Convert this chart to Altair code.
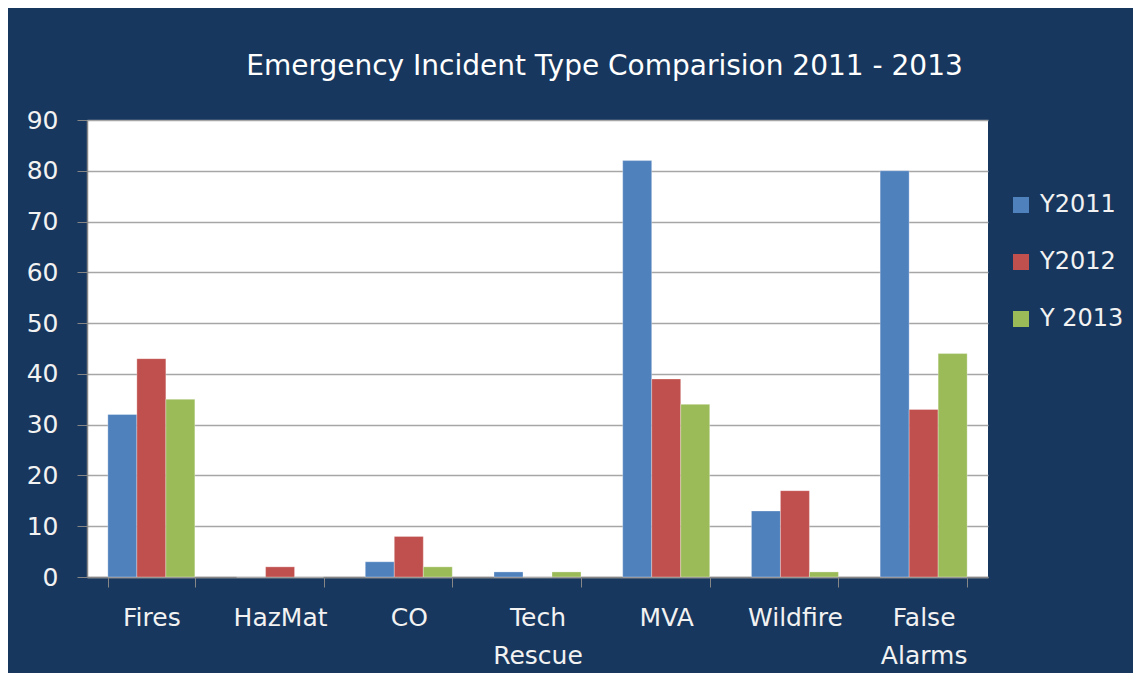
import altair as alt
import pandas as pd

categories = ["Fires", "HazMat", "CO", "Tech Rescue", "MVA", "Wildfire", "False Alarms"]
series = ["Y2011", "Y2012", "Y 2013"]
y2011 = [32, 0, 3, 1, 82, 13, 80]
y2012 = [43, 2, 8, 0, 39, 17, 33]
y2013 = [35, 0, 2, 1, 34, 1, 44]
colors = ["#4F81BD", "#C0504D", "#9BBB59"]

rows = []
for s, vals in zip(series, [y2011, y2012, y2013]):
    for c, v in zip(categories, vals):
        rows.append({"category": c, "series": s, "value": v})
df = pd.DataFrame(rows)

FONT = "DejaVu Sans"
TXT = "#F2F2F2"
NAVY = "#17375E"

chart = alt.Chart(df).mark_bar(stroke="white", strokeWidth=0.5, strokeOpacity=0.6).encode(
    x=alt.X("category:N", sort=categories, title=None,
            scale=alt.Scale(paddingInner=0.324, paddingOuter=0.162),
            axis=alt.Axis(labelAngle=0,
                          labelExpr="isValid(datum.value) ? split(datum.value, ' ') : ''",
                          labelFontSize=25, labelColor=TXT, labelFont=FONT,
                          labelPadding=18, labelLineHeight=38,
                          tickBand="extent", tickSize=10, tickColor="#868686",
                          domainColor="#868686", domainWidth=1.5, grid=False)),
    xOffset=alt.XOffset("series:N", sort=series),
    y=alt.Y("value:Q", title=None,
            scale=alt.Scale(domain=[0, 90], nice=False),
            axis=alt.Axis(values=list(range(0, 100, 10)), labelFontSize=25,
                          labelColor=TXT, labelFont=FONT, labelPadding=19,
                          tickSize=10, tickColor="#868686", domainColor="#868686",
                          domainWidth=1.5, gridColor="#A6A6A6", gridWidth=1.5)),
    color=alt.Color("series:N", sort=series,
                    scale=alt.Scale(domain=series, range=colors),
                    legend=alt.Legend(title=None, orient="none", legendX=922, legendY=73,
                                      symbolType="square", symbolSize=256,
                                      symbolStrokeWidth=0, labelFontSize=24,
                                      labelColor=TXT, labelFont=FONT,
                                      rowPadding=33, labelOffset=7)),
).properties(
    width=901, height=457,
    title=alt.TitleParams("Emergency Incident Type Comparision 2011 - 2013",
                          color="white", fontSize=28, font=FONT, fontWeight="normal",
                          anchor="middle", dx=67, offset=27),
    background=NAVY,
    padding={"left": 79, "top": 112, "right": 145, "bottom": 96},
    autosize=alt.AutoSizeParams(type="none"),
).configure_view(fill="white", stroke=None)

chart.save("out.html", embed_options={"renderer": "svg", "actions": False})
